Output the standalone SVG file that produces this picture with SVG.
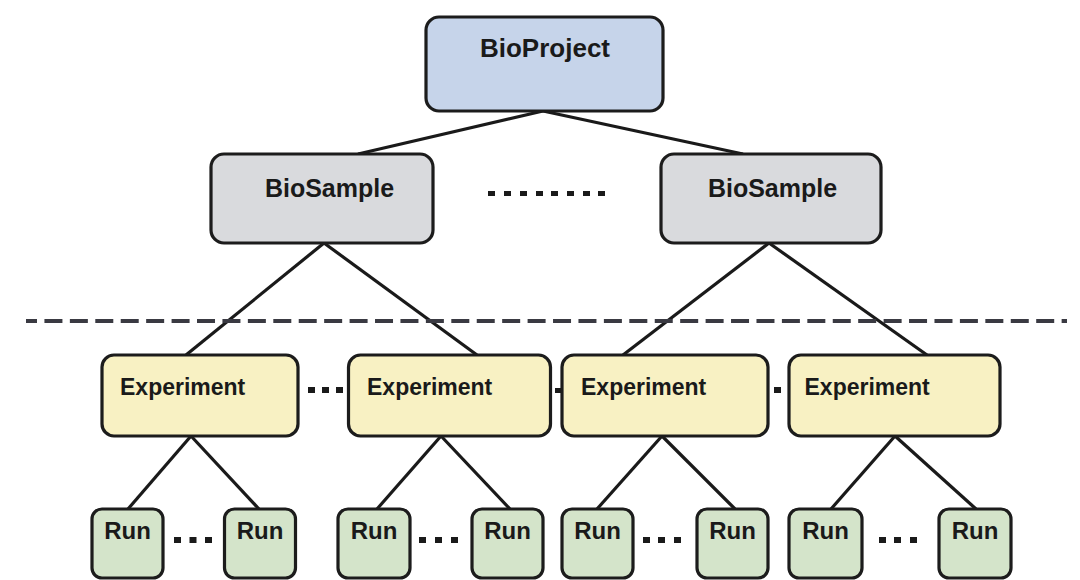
<svg xmlns="http://www.w3.org/2000/svg" width="1080" height="580" viewBox="0 0 1080 580">
<style>
.box{stroke:#1c1c1c;stroke-width:3.2}
.proj{fill:#c6d4ea}
.samp{fill:#d9dadd}
.exp{fill:#f8f1c3}
.run{fill:#d4e4ca}
.lbl{font-family:"Liberation Sans",Arial,sans-serif;font-weight:bold;fill:#1a1a1a}
.edge{stroke:#1a1a1a;stroke-width:3.2;fill:none}
.dot{fill:#1a1a1a}
</style>
<rect width="1080" height="580" fill="#ffffff"/>
<g id="connectors">
<line class="edge" x1="543" y1="111" x2="358" y2="154"/>
<line class="edge" x1="543" y1="111" x2="743" y2="154"/>
<line class="edge" x1="324" y1="243" x2="186" y2="355"/>
<line class="edge" x1="324" y1="243" x2="477" y2="355"/>
<line class="edge" x1="769" y1="243" x2="623" y2="355"/>
<line class="edge" x1="769" y1="243" x2="927" y2="355"/>
<line class="edge" x1="191" y1="436" x2="128" y2="509"/>
<line class="edge" x1="191" y1="436" x2="259" y2="509"/>
<line class="edge" x1="441" y1="436" x2="377" y2="509"/>
<line class="edge" x1="441" y1="436" x2="510" y2="509"/>
<line class="edge" x1="662" y1="436" x2="597" y2="509"/>
<line class="edge" x1="662" y1="436" x2="735" y2="509"/>
<line class="edge" x1="895" y1="436" x2="831" y2="509"/>
<line class="edge" x1="895" y1="436" x2="976" y2="509"/>
</g>
<line id="divider" x1="26" y1="321" x2="1067" y2="321" stroke="#3a3a42" stroke-width="4" stroke-dasharray="18 7.43" stroke-dashoffset="7"/>
<g id="ellipses">
<rect class="dot" x="488" y="191" width="7" height="5"/>
<rect class="dot" x="504" y="191" width="7" height="5"/>
<rect class="dot" x="520" y="191" width="7" height="5"/>
<rect class="dot" x="536" y="191" width="7" height="5"/>
<rect class="dot" x="551" y="191" width="7" height="5"/>
<rect class="dot" x="567" y="191" width="7" height="5"/>
<rect class="dot" x="583" y="191" width="7" height="5"/>
<rect class="dot" x="598" y="191" width="7" height="5"/>
<rect class="dot" x="308" y="387" width="7" height="6"/>
<rect class="dot" x="322" y="387" width="7" height="6"/>
<rect class="dot" x="336" y="387" width="7" height="6"/>
<rect class="dot" x="555" y="388" width="6" height="5"/>
<rect class="dot" x="774" y="387" width="7" height="6"/>
<rect class="dot" x="174" y="537" width="7" height="6"/>
<rect class="dot" x="189.5" y="537" width="7" height="6"/>
<rect class="dot" x="205" y="537" width="7" height="6"/>
<rect class="dot" x="419" y="537" width="7" height="6"/>
<rect class="dot" x="435" y="537" width="7" height="6"/>
<rect class="dot" x="451" y="537" width="7" height="6"/>
<rect class="dot" x="643" y="537" width="7" height="6"/>
<rect class="dot" x="658" y="537" width="7" height="6"/>
<rect class="dot" x="674" y="537" width="7" height="6"/>
<rect class="dot" x="879" y="537" width="7" height="6"/>
<rect class="dot" x="894" y="537" width="7" height="6"/>
<rect class="dot" x="910" y="537" width="7" height="6"/>
</g>
<g id="bioproject">
<rect class="box proj" x="426" y="17" width="237" height="94" rx="13"/>
<text class="lbl" x="545" y="57" font-size="26" text-anchor="middle">BioProject</text>
</g>
<g id="biosample1">
<rect class="box samp" x="211" y="154" width="222" height="89" rx="13"/>
<text class="lbl" x="329.5" y="197" font-size="25" text-anchor="middle">BioSample</text>
</g>
<g id="biosample2">
<rect class="box samp" x="661" y="154" width="220" height="89" rx="13"/>
<text class="lbl" x="772.5" y="197" font-size="25" text-anchor="middle">BioSample</text>
</g>
<g id="experiment1">
<rect class="box exp" x="102" y="355" width="196" height="81" rx="12"/>
<text class="lbl" x="120" y="395" font-size="23">Experiment</text>
</g>
<g id="experiment2">
<rect class="box exp" x="348.5" y="355" width="202" height="81" rx="12"/>
<text class="lbl" x="367" y="395" font-size="23">Experiment</text>
</g>
<g id="experiment3">
<rect class="box exp" x="562" y="355" width="206" height="81" rx="12"/>
<text class="lbl" x="581" y="395" font-size="23">Experiment</text>
</g>
<g id="experiment4">
<rect class="box exp" x="789" y="355" width="211" height="81" rx="12"/>
<text class="lbl" x="804.5" y="395" font-size="23">Experiment</text>
</g>
<g id="run1"><rect class="box run" x="92" y="509" width="71" height="69" rx="10"/><text class="lbl" x="127.5" y="539" font-size="24" text-anchor="middle">Run</text></g>
<g id="run2"><rect class="box run" x="224.5" y="509" width="71" height="69" rx="10"/><text class="lbl" x="260" y="539" font-size="24" text-anchor="middle">Run</text></g>
<g id="run3"><rect class="box run" x="338" y="509" width="72" height="69" rx="10"/><text class="lbl" x="374" y="539" font-size="24" text-anchor="middle">Run</text></g>
<g id="run4"><rect class="box run" x="472" y="509" width="71" height="69" rx="10"/><text class="lbl" x="507.5" y="539" font-size="24" text-anchor="middle">Run</text></g>
<g id="run5"><rect class="box run" x="562" y="509" width="71" height="69" rx="10"/><text class="lbl" x="597.5" y="539" font-size="24" text-anchor="middle">Run</text></g>
<g id="run6"><rect class="box run" x="697" y="509" width="71" height="69" rx="10"/><text class="lbl" x="732.5" y="539" font-size="24" text-anchor="middle">Run</text></g>
<g id="run7"><rect class="box run" x="789" y="509" width="73" height="69" rx="10"/><text class="lbl" x="825.5" y="539" font-size="24" text-anchor="middle">Run</text></g>
<g id="run8"><rect class="box run" x="939" y="509" width="72" height="69" rx="10"/><text class="lbl" x="975" y="539" font-size="24" text-anchor="middle">Run</text></g>
</svg>
